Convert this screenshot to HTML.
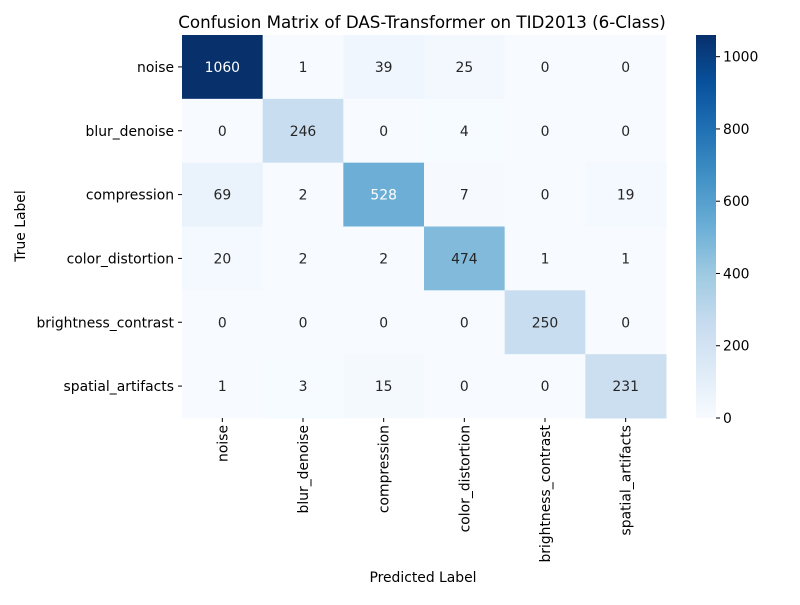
<!DOCTYPE html>
<html><head><meta charset="utf-8"><style>
body{margin:0;background:#fff;font-family:"Liberation Sans","DejaVu Sans",sans-serif;}
</style></head><body>
<svg id="chart" width="800" height="600" xmlns="http://www.w3.org/2000/svg" font-family="DejaVu Sans, Liberation Sans, sans-serif">
<defs><linearGradient id="cbg" x1="0" y1="1" x2="0" y2="0">
<stop offset="0" stop-color="#f7fbff"/><stop offset="0.125" stop-color="#deebf7"/><stop offset="0.25" stop-color="#c6dbef"/><stop offset="0.375" stop-color="#9ecae1"/><stop offset="0.5" stop-color="#6baed6"/><stop offset="0.625" stop-color="#4292c6"/><stop offset="0.75" stop-color="#2171b5"/><stop offset="0.875" stop-color="#08519c"/><stop offset="1" stop-color="#08306b"/>
</linearGradient></defs>
<text x="422" y="28" text-anchor="middle" font-size="16.7">Confusion Matrix of DAS-Transformer on TID2013 (6-Class)</text>
<g id="cells"></g><g id="xt"></g><g id="yt"></g>
<rect x="696" y="35" width="20" height="383" fill="url(#cbg)"/>
<g id="cbt"></g>
<text x="423" y="582" text-anchor="middle" font-size="13.9">Predicted Label</text>
<text x="25" y="226" text-anchor="middle" font-size="13.9" transform="rotate(-90 25 226)">True Label</text>
</svg>
<script>
const classes=["noise","blur_denoise","compression","color_distortion","brightness_contrast","spatial_artifacts"];
const row0=[1060,1,39,25,0,0];
const row1=[0,246,0,4,0,0];
const row2=[69,2,528,7,0,19];
const row3=[20,2,2,474,1,1];
const row4=[0,0,0,0,250,0];
const row5=[1,3,15,0,0,231];
const cbTicks=[0,200,400,600,800,1000];
const matrix=[row0,row1,row2,row3,row4,row5];
const NS="http://www.w3.org/2000/svg";
const X0=182,X1=666,Y0=35,Y1=418;
const n=classes.length,cw=(X1-X0)/n,ch=(Y1-Y0)/n;
const vmax=Math.max(...matrix.flat());
const stops=["#f7fbff","#deebf7","#c6dbef","#9ecae1","#6baed6","#4292c6","#2171b5","#08519c","#08306b"].map(h=>[1,3,5].map(i=>parseInt(h.substr(i,2),16)));
function cmap(t){t=Math.max(0,Math.min(1,t));const p=t*8,i=Math.min(7,Math.floor(p)),f=p-i;return stops[i].map((c,k)=>c+(stops[i+1][k]-c)*f);}
function lum(c){const l=c.map(v=>{v/=255;return v<=0.03928?v/12.92:Math.pow((v+0.055)/1.055,2.4)});return 0.2126*l[0]+0.7152*l[1]+0.0722*l[2];}
function el(t,a,p,txt){const e=document.createElementNS(NS,t);for(const k in a)e.setAttribute(k,a[k]);if(txt!==undefined)e.textContent=txt;p.appendChild(e);return e;}
const cells=document.getElementById('cells');
matrix.forEach((row,r)=>row.forEach((v,c)=>{
 const col=cmap(v/vmax);
 const rc=el('rect',{x:X0+c*cw,y:Y0+r*ch,width:cw+0.5,height:ch+0.5,fill:`rgb(${col.map(Math.round).join(',')})`},cells);
 
 
 const t=el('text',{x:X0+(c+0.5)*cw,y:Y0+(r+0.5)*ch+5,'text-anchor':'middle','font-size':'13.9',fill:lum(col)>0.408?'#262626':'#ffffff'},cells,String(v));
 
 
}));
const xt=document.getElementById('xt'),yt=document.getElementById('yt');
classes.forEach((c,i)=>{
 const x=X0+(i+0.5)*cw;
 el('line',{x1:x,x2:x,y1:Y1,y2:Y1+4,stroke:'#000'},xt);
 const t=el('text',{x:x+5,y:Y1+7,'text-anchor':'end','font-size':'13.9',transform:`rotate(-90 ${x+5} ${Y1+7})`},xt,c);
 
 
 const y=Y0+(i+0.5)*ch;
 el('line',{x1:X0-4,x2:X0,y1:y,y2:y,stroke:'#000'},yt);
 const u=el('text',{x:X0-8,y:y+5,'text-anchor':'end','font-size':'13.9'},yt,c);
 
 
});
const cbt=document.getElementById('cbt');
cbTicks.forEach(v=>{
 const y=Y1-(Y1-Y0)*v/vmax;
 el('line',{x1:716,x2:720,y1:y,y2:y,stroke:'#000'},cbt);
 const t=el('text',{x:723,y:y+5,'font-size':'13.9'},cbt,String(v));
 
 
});
</script>
</body></html>
